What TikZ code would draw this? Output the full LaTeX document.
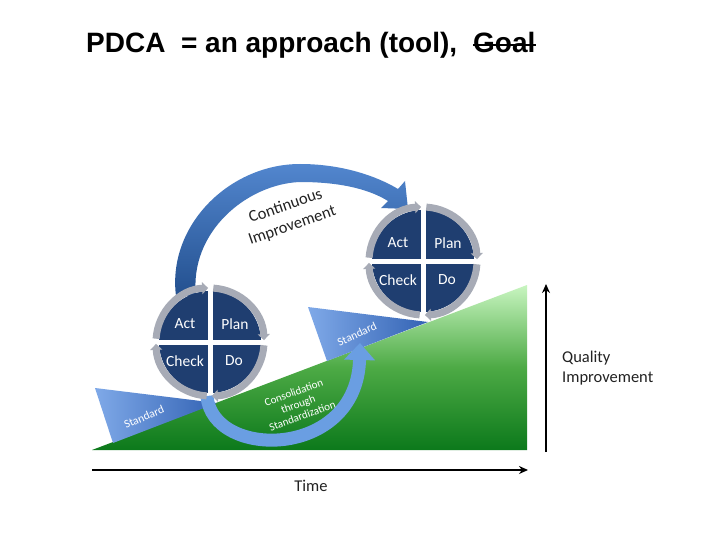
\documentclass[tikz,border=0pt]{standalone}
\usepackage{fontspec}
\setmainfont{Carlito}
\newfontfamily\titlefont{Liberation Sans}
\usetikzlibrary{arrows.meta}
\definecolor{pdcablue}{HTML}{1F3E70}
\definecolor{ringgray}{HTML}{A7ABB6}
\definecolor{greentop}{HTML}{C8F5C0}
\definecolor{greenmid}{HTML}{4DAA45}
\definecolor{greenbot}{HTML}{0C791B}
\definecolor{wedgelight}{HTML}{7FA9E8}
\definecolor{wedgedark}{HTML}{3363B4}
\definecolor{bigarrowlight}{HTML}{5286CE}
\definecolor{bigarrowdark}{HTML}{23508F}
\definecolor{lowarrow}{HTML}{6A9EE2}
\definecolor{txt}{HTML}{222222}
\tikzset{
  quad/.style={text=white, font=\fontsize{15.5}{17}\selectfont, inner sep=0},
  ringarc/.style={draw=ringgray, line width=7, -{Triangle[width=12,length=6]}},
  crossline/.style={white, line width=5},
  wedgetext/.style={text=white, font=\fontsize{11.5}{13}\selectfont, inner sep=0},
  label/.style={text=txt, font=\fontsize{16.5}{20}\selectfont, inner sep=0},
  axis/.style={line width=1.6, -{Stealth[length=9,width=8]}},
}
\newcommand\pdcawheel[2]{%
  \begin{scope}[shift={(#1)}]
    \fill[pdcablue] (0,0) circle (51);
    \draw[crossline] (-52,0) -- (52,0);
    \draw[crossline] (0,-52) -- (0,52);
    \foreach \s in {180,270,360,450}{
      \draw[ringarc] (\s+3.5:54) arc[start angle=\s+3.5, end angle=\s+88, radius=54];
    }
    \node[quad] (#2act) at (-25,-18) {Act};
    \node[quad] (#2plan) at (25,-18) {Plan};
    \node[quad] (#2check) at (-25,19) {Check};
    \node[quad] (#2do) at (24,19) {Do};
  \end{scope}}
\begin{document}
\begin{tikzpicture}[x=1pt,y=-1pt]
\useasboundingbox (0,0) rectangle (720,540);
\fill[white] (0,0) rectangle (720,540);

% title
\node[anchor=base west, font=\titlefont\bfseries\fontsize{28}{32}\selectfont, inner sep=0] (title) at (86,53) {PDCA\ \ = an approach (tool),};
\node[anchor=base west, font=\titlefont\bfseries\fontsize{28}{32}\selectfont, inner sep=0] (goal) at (473,53) {Goal};
\coordinate (gs) at ([yshift=8pt]goal.base west);
\coordinate (ge) at ([yshift=8pt]goal.base east);
\draw[line width=1.8] (gs) -- (ge);

% green slope
\shade[top color=greentop, bottom color=greenbot, middle color=greenmid] (92,450) -- (527,285) -- (527,450) -- cycle;

% wedges
\shade[left color=wedgelight, right color=wedgedark] (95,388) -- (217,403) -- (113,443) -- cycle;
\shade[left color=wedgelight, right color=wedgedark] (308,307) -- (428,322) -- (327,361) -- cycle;

% big arrow (continuous improvement)
\shade[top color=bigarrowlight, bottom color=bigarrowdark]
  (176,296) .. controls (167,225) and (230,164) .. (300,164)
  .. controls (350,164) and (385,181) .. (398,189)
  -- (405,181) -- (408,209) -- (381,208) -- (388,201)
  .. controls (372,191) and (345,182) .. (300,182)
  .. controls (247,184) and (189,232) .. (196,296) -- cycle;

% lower arrow (consolidation)
\coordinate (lowstart) at (207,396);
\coordinate (lowend) at (360,343);
\draw[lowarrow, line width=13, -{Triangle[width=30,length=17]}]
  (lowstart) .. controls (212,460) and (357,460) .. (lowend);

% wheels
\pdcawheel{210,342}{l}
\pdcawheel{423,261}{r}

% texts
\node[wedgetext, rotate=23] (stdl) at (144,417) {Standard};
\node[wedgetext, rotate=25] (stdr) at (357,334) {Standard};
\node[wedgetext, rotate=20, align=center, font=\fontsize{11}{12.5}\selectfont] (cons) at (298,404) {Consolidation\\through\\Standardization};
\node[label, rotate=19, align=center, font=\fontsize{16.5}{20.5}\selectfont] (ci) at (289,216) {Continuous\\Improvement};

% axes
\coordinate (vb) at (546,452);
\coordinate (vt) at (546,284);
\coordinate (hl) at (92,470);
\coordinate (hr) at (528,470);
\draw[axis] (vb) -- (vt);
\draw[axis] (hl) -- (hr);
\node[label, anchor=west, align=left] (qi) at (562,368) {Quality\\Improvement};
\node[label] (time) at (311,486) {Time};
\end{tikzpicture}
\end{document}
